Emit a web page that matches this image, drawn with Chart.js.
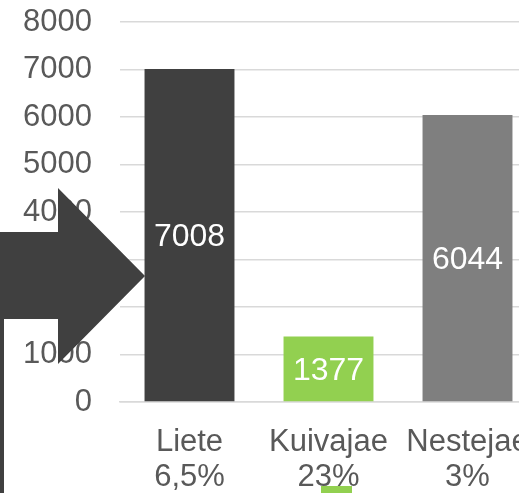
<!DOCTYPE html>
<html>
<head>
<meta charset="utf-8">
<script src="https://cdn.jsdelivr.net/npm/chart.js@4.4.1/dist/chart.umd.min.js"></script>
<style>
  html, body { margin: 0; padding: 0; background: #fff; overflow: hidden; }
  #wrap { position: relative; width: 519px; height: 493px; overflow: hidden; }
  #chart { position: absolute; left: 0; top: 0; }
  .deco { position: absolute; z-index: 2; }
  #arrow {
    left: 0; top: 0; width: 150px; height: 370px;
    background: #404040;
    clip-path: polygon(0 232px, 58px 232px, 58px 188px, 145px 276px, 58px 364px, 58px 319px, 0 319px);
  }
  #edge { left: 0; top: 319px; width: 4px; height: 174px; background: #404040; }
  #greenTab { left: 321px; top: 486px; width: 31px; height: 7px; background: #92d050; }
</style>
</head>
<body>
<div id="wrap">
  <canvas id="chart" width="537" height="493"></canvas>
  <div id="arrow" class="deco"></div>
  <div id="edge" class="deco"></div>
  <div id="greenTab" class="deco"></div>
</div>
<script>
  const categories = ["Liete", "Kuivajae", "Nestejae"];
  const shares = ["6,5%", "23%", "3%"];
  const values = [7008, 1377, 6044];
  const barColors = ["#404040", "#92d050", "#7f7f7f"];
  const yTicks = [0, 1000, 2000, 3000, 4000, 5000, 6000, 7000, 8000];

  const FONT = "'Liberation Sans', Arial, sans-serif";
  const TEXT = "#595959";

  // Write each value in white, centred inside its bar.
  const valueLabels = {
    id: "valueLabels",
    afterDatasetsDraw(chart) {
      const { ctx } = chart;
      const meta = chart.getDatasetMeta(0);
      ctx.save();
      ctx.font = "32px " + FONT;
      ctx.fillStyle = "#ffffff";
      ctx.textAlign = "center";
      ctx.textBaseline = "middle";
      meta.data.forEach((bar, i) => {
        const mid = (bar.y + bar.base) / 2 + 2; // nudge: digits sit a bit high
        ctx.fillText(String(values[i]), bar.x, mid);
      });
      ctx.restore();
    },
  };

  new Chart(document.getElementById("chart").getContext("2d"), {
    type: "bar",
    data: {
      labels: categories.map((c, i) => [c, shares[i]]),
      datasets: [
        {
          data: values,
          backgroundColor: barColors,
          borderWidth: 0,
          categoryPercentage: 1,
          barPercentage: 0.647,
        },
      ],
    },
    options: {
      responsive: false,
      animation: false,
      layout: { padding: { top: 22, left: 0, right: 0, bottom: 0 } },
      plugins: { legend: { display: false }, tooltip: { enabled: false } },
      scales: {
        x: {
          grid: { display: false, drawTicks: false },
          border: { display: true, color: "#d9d9d9", width: 1.5 },
          ticks: {
            color: TEXT,
            font: { family: FONT, size: 31, lineHeight: 1.16 },
            padding: 22,
            maxRotation: 0,
            autoSkip: false,
          },
          afterFit(scale) {
            scale.height = 91;
            scale.paddingLeft = 0;
            scale.paddingRight = 0;
          },
        },
        y: {
          min: 0,
          max: yTicks[yTicks.length - 1],
          afterBuildTicks(scale) {
            scale.ticks = yTicks.map((v) => ({ value: v }));
          },
          grid: { color: "#d9d9d9", lineWidth: 1.5, drawTicks: false },
          border: { display: false },
          ticks: {
            color: TEXT,
            font: { family: FONT, size: 31 },
            padding: 28,
            callback: (v) => String(v),
          },
          afterFit(scale) {
            scale.width = 120;
            scale.paddingTop = 0;
            scale.paddingBottom = 0;
          },
        },
      },
    },
    plugins: [valueLabels],
  });
</script>
</body>
</html>
